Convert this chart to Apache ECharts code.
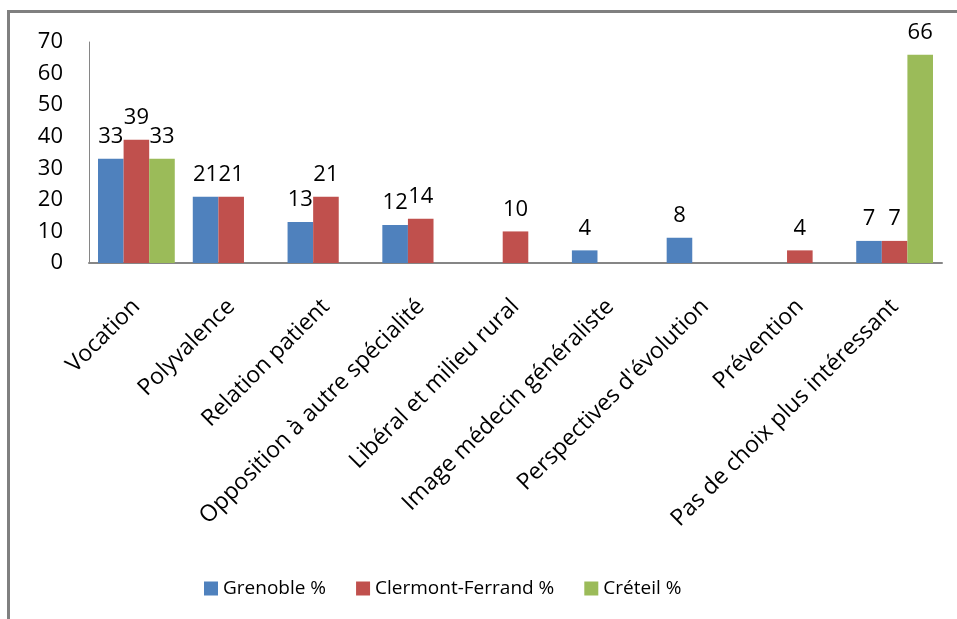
<!DOCTYPE html>
<html>
<head>
<meta charset="utf-8">
<script src="https://cdn.jsdelivr.net/npm/echarts@6/dist/echarts.min.js"></script>
<style>
html,body{margin:0;padding:0;background:#fff;}
#chart{width:957px;height:619px;}
</style>
</head>
<body>
<div id="chart"></div>
<script>
var categories = ["Vocation", "Polyvalence", "Relation patient", "Opposition à autre spécialité", "Libéral et milieu rural", "Image médecin généraliste", "Perspectives d'évolution", "Prévention", "Pas de choix plus intéressant"];
var grenoble = [33, 21, 13, 12, null, 4, 8, null, 7];
var clermont = [39, 21, 21, 14, 10, null, null, 4, 7];
var creteil = [33, null, null, null, null, null, null, null, 66];
var seriesNames = ["Grenoble %", "Clermont-Ferrand %", "Créteil %"];
var yTicks = [0, 10, 20, 30, 40, 50, 60, 70];

var FONT = "Open Sans";
var chart = echarts.init(document.getElementById('chart'), null, {renderer: 'canvas'});

function mk(name, data, color) {
  return {
    name: name, type: 'bar', data: data,
    barGap: '0%', barCategoryGap: '19%',
    itemStyle: {color: color},
    label: {show: true, position: 'top', distance: 11, color: '#000', fontFamily: FONT, fontSize: 22,
      formatter: function (p) { return p.value == null ? '' : p.value; }}
  };
}

chart.setOption({
  animation: false,
  backgroundColor: '#fff',
  textStyle: {fontFamily: FONT},
  graphic: [{
    type: 'polyline', silent: true,
    shape: {points: [[8.5, 619], [8.5, 11.5], [957, 11.5]]},
    style: {stroke: '#808080', lineWidth: 3, fill: null}
  }],
  grid: {left: 89, right: 15, top: 42, bottom: 356, containLabel: false},
  legend: {
    data: seriesNames, left: 199, top: 574, itemWidth: 14, itemHeight: 14, itemGap: 30,
    icon: 'rect',
    textStyle: {fontFamily: FONT, fontSize: 19, color: '#000'}
  },
  xAxis: {
    type: 'category', data: categories,
    axisLine: {lineStyle: {color: '#868686', width: 2}},
    axisTick: {show: false},
    axisLabel: {interval: 0, rotate: 45, margin: 40, fontFamily: FONT, fontSize: 23, color: '#000'}
  },
  yAxis: {
    type: 'value', min: yTicks[0], max: yTicks[yTicks.length - 1], interval: 10,
    axisLine: {show: true, lineStyle: {color: '#868686', width: 1}},
    axisTick: {show: false},
    splitLine: {show: false},
    axisLabel: {margin: 26, fontFamily: FONT, fontSize: 22, color: '#000'}
  },
  series: [
    mk(seriesNames[0], grenoble, '#4F81BD'),
    mk(seriesNames[1], clermont, '#C0504D'),
    mk(seriesNames[2], creteil, '#9BBB59')
  ]
});
</script>
</body>
</html>
